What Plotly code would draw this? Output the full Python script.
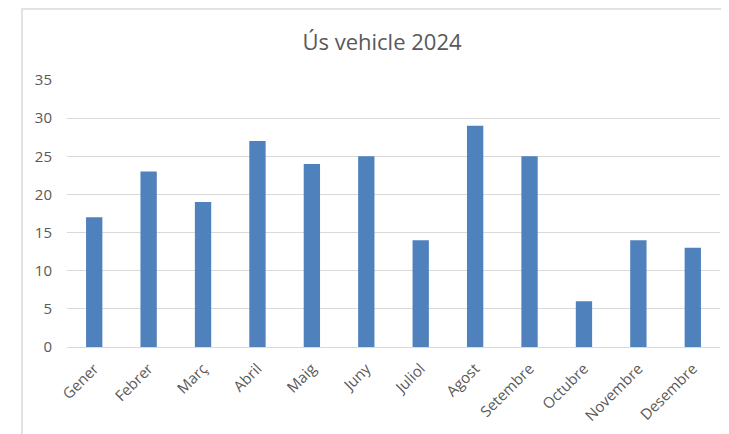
import plotly.graph_objects as go

months = ["Gener", "Febrer", "Març", "Abril", "Maig", "Juny", "Juliol",
          "Agost", "Setembre", "Octubre", "Novembre", "Desembre"]
values = [17, 23, 19, 27, 24, 25, 14, 29, 25, 6, 14, 13]
y_ticks = [0, 5, 10, 15, 20, 25, 30, 35]

OFF = 8  # page body margin
W, H = 729 - OFF, 434 - OFF
L, T = 67 - OFF, 80 - OFF
R = W - (720 - OFF)
B = H - (347 - OFF)
pw = W - L - R
ph = H - T - B

def px_x(x):
    return (x - OFF - L) / pw

def px_y(y):
    return (H - B - (y - OFF)) / ph

fig = go.Figure(go.Bar(
    x=months, y=values,
    marker=dict(color="#4F81BD", line=dict(width=0)),
    width=0.3,
))

fig.update_layout(
    width=W, height=H,
    margin=dict(l=L, r=R, t=T, b=B, autoexpand=False),
    paper_bgcolor="white", plot_bgcolor="white",
    font=dict(family="Open Sans, Liberation Sans, sans-serif", color="#595959", size=14),
    title=dict(text="Ús vehicle 2024", x=px_x(382), xref="paper", xanchor="center",
               y=1 - (42 - OFF) / H, yanchor="middle",
               font=dict(size=22, color="#595959")),
    showlegend=False,
    xaxis=dict(tickangle=-45, showgrid=False, showline=True, linecolor="#D9D9D9",
               linewidth=1, ticks="", automargin=False, ticklabelstandoff=6,
               tickfont=dict(size=15, color="#595959")),
    yaxis=dict(range=[0, 35], tickvals=y_ticks, showgrid=True, gridcolor="#D9D9D9",
               gridwidth=1, zeroline=False, showline=False, ticks="", automargin=False,
               tickfont=dict(size=15, color="#595959"), ticklabelstandoff=14),
    shapes=[dict(type="rect", xref="paper", yref="paper",
                 x0=px_x(22), x1=px_x(760), y0=px_y(460), y1=px_y(9),
                 line=dict(color="#D9D9D9", width=1.5), fillcolor="rgba(0,0,0,0)",
                 layer="below")],
)

fig.write_html("out.html")
